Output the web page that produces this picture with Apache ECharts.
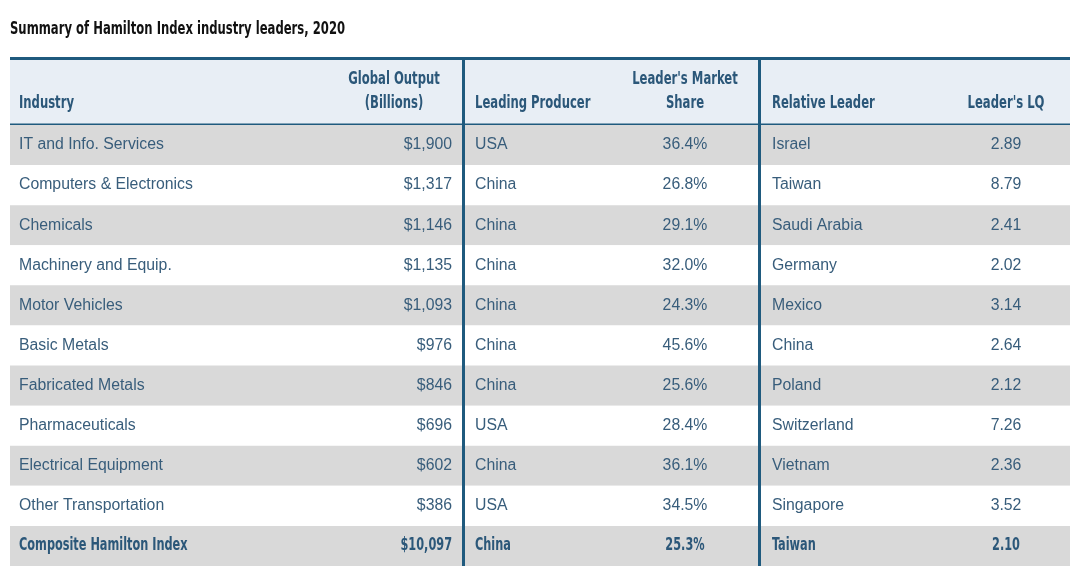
<!DOCTYPE html>
<html>
<head>
<meta charset="utf-8">
<script src="https://cdn.jsdelivr.net/npm/echarts@6/dist/echarts.min.js"></script>
<style>
  html, body { margin: 0; padding: 0; background: #fff; }
  #main { width: 1085px; height: 581px; }
</style>
</head>
<body>
<div id="main"></div>
<script>
var chart = echarts.init(document.getElementById('main'));

// table data
const industries = ['IT and Info. Services', 'Computers & Electronics', 'Chemicals', 'Machinery and Equip.',
  'Motor Vehicles', 'Basic Metals', 'Fabricated Metals', 'Pharmaceuticals', 'Electrical Equipment',
  'Other Transportation', 'Composite Hamilton Index'];
const globalOutput = [1900, 1317, 1146, 1135, 1093, 976, 846, 696, 602, 386, 10097];
const producers = ['USA', 'China', 'China', 'China', 'China', 'China', 'China', 'USA', 'China', 'USA', 'China'];
const marketShare = [36.4, 26.8, 29.1, 32.0, 24.3, 45.6, 25.6, 28.4, 36.1, 34.5, 25.3];
const relLeaders = ['Israel', 'Taiwan', 'Saudi Arabia', 'Germany', 'Mexico', 'China', 'Poland', 'Switzerland',
  'Vietnam', 'Singapore', 'Taiwan'];
const leaderLQ = [2.89, 8.79, 2.41, 2.02, 3.14, 2.64, 2.12, 7.26, 2.36, 3.52, 2.10];

const titleText = 'Summary of Hamilton Index industry leaders, 2020';

var headFont = '"DejaVu Sans Condensed", "Liberation Sans Narrow", sans-serif';
var bodyFont = '"Liberation Sans", Arial, sans-serif';
var blue = '#1f5a7e';
var headColor = '#2b5779';
var bodyColor = '#385d7b';

var rows = industries.map(function (name, i) {
  return [i, name, globalOutput[i], producers[i], marketShare[i], relLeaders[i], leaderLQ[i]];
});
var last = industries.length - 1;

// condensed bold text is squeezed horizontally around its anchor
function txt(x, y, s, align, bold) {
  return {
    type: 'text',
    x: x, y: y,
    scaleX: bold ? 0.74 : 1,
    style: {
      x: 0, y: 0, text: s,
      fill: bold ? headColor : bodyColor,
      font: bold ? ('bold 17px ' + headFont) : ('15.8px ' + bodyFont),
      textAlign: align, textVerticalAlign: 'middle'
    }
  };
}

function renderRow(params, api) {
  var i = api.value(0);
  var d = rows[i];
  var y = api.coord([0, i])[1];
  var bold = i === last;
  function cx(v) { return api.coord([v, i])[0]; }
  return {
    type: 'group',
    children: [
      txt(cx(9), y, d[1], 'left', bold),
      txt(cx(442), y, '$' + d[2].toLocaleString('en-US'), 'right', bold),
      txt(cx(465), y, d[3], 'left', bold),
      txt(cx(675), y, d[4].toFixed(1) + '%', 'center', bold),
      txt(cx(762), y, d[5], 'left', bold),
      txt(cx(996), y, d[6].toFixed(2), 'center', bold)
    ]
  };
}

function hText(x, y, s, align, color) {
  return {
    type: 'text', x: x, y: y, scaleX: 0.76,
    style: { x: 0, y: 0, text: s, fill: color || headColor, font: 'bold 17px ' + headFont, textAlign: align, textVerticalAlign: 'middle' }
  };
}

option = {
  backgroundColor: '#fff',
  animation: false,
  grid: { left: 10, right: 15, top: 125, bottom: 15 },
  xAxis: { type: 'value', min: 0, max: 1060, show: false },
  yAxis: {
    type: 'category',
    inverse: true,
    data: industries,
    axisLine: { show: false },
    axisTick: { show: false },
    axisLabel: { show: false },
    splitLine: { show: false },
    splitArea: { show: true, areaStyle: { color: ['#d9d9d9', '#ffffff'] } }
  },
  graphic: [
    hText(10, 30, titleText, 'left', '#111'),
    { type: 'rect', shape: { x: 10, y: 59, width: 1060, height: 65 }, style: { fill: '#e8eef5' } },
    { type: 'rect', shape: { x: 10, y: 57, width: 1060, height: 3 }, style: { fill: blue } },
    { type: 'rect', shape: { x: 10, y: 123.5, width: 1060, height: 1.5 }, style: { fill: blue } },
    { type: 'rect', shape: { x: 10, y: 524.5, width: 1060, height: 1.5 }, style: { fill: blue } },
    { type: 'rect', shape: { x: 462, y: 57, width: 3, height: 509 }, style: { fill: blue }, z: 100 },
    { type: 'rect', shape: { x: 758, y: 57, width: 3, height: 509 }, style: { fill: blue }, z: 100 },
    hText(19, 104, 'Industry', 'left'),
    hText(394, 80, 'Global Output', 'center'),
    hText(394, 104, '(Billions)', 'center'),
    hText(475, 104, 'Leading Producer', 'left'),
    hText(685, 80, "Leader's Market", 'center'),
    hText(685, 104, 'Share', 'center'),
    hText(772, 104, 'Relative Leader', 'left'),
    hText(1006, 104, "Leader's LQ", 'center')
  ],
  series: [{
    type: 'custom',
    renderItem: renderRow,
    data: rows.map(function (r) { return [r[0]]; }),
    encode: { y: 0 },
    z: 10
  }]
};

chart.setOption(option);
</script>
</body>
</html>
